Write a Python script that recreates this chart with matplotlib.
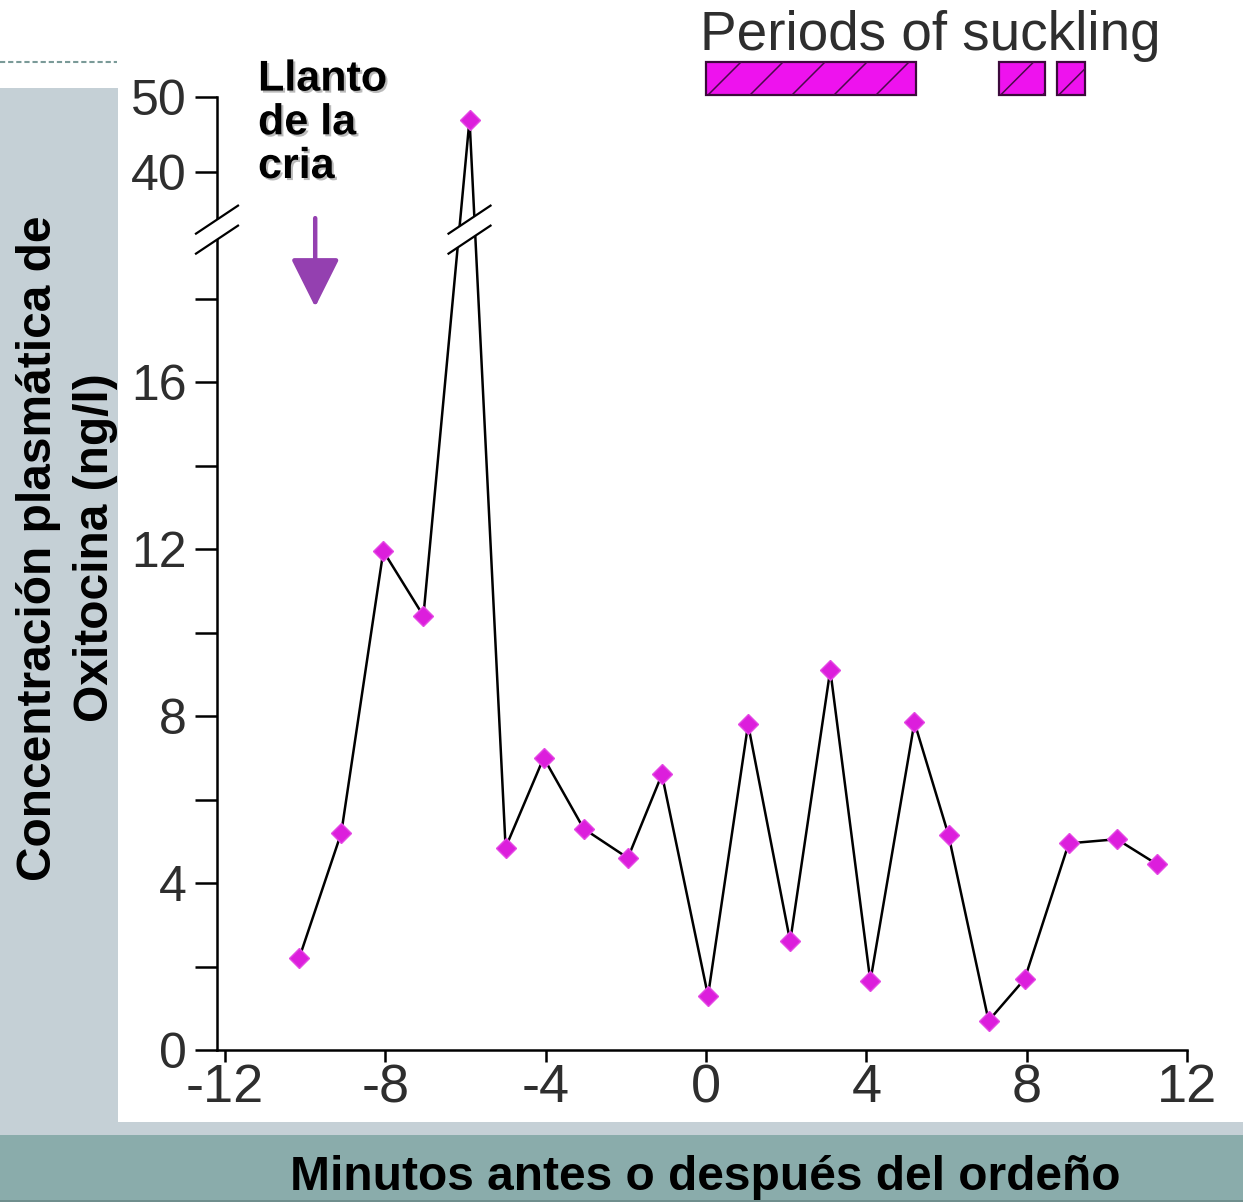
import numpy as np
import matplotlib
matplotlib.use("Agg")
import matplotlib.pyplot as plt
import matplotlib.patheffects as pe
import matplotlib.transforms as mtransforms
from matplotlib.patches import Rectangle, Polygon
from matplotlib.lines import Line2D

# ---------------- data ----------------
minutes = [-10.15, -9.1, -8.05, -7.05, -5.9, -5.0, -4.05, -3.05, -1.95, -1.1,
           0.05, 1.05, 2.1, 3.1, 4.1, 5.2, 6.05, 7.05, 7.95, 9.05, 10.25, 11.25]
oxytocin = [2.2, 5.2, 11.95, 10.4, 47.0, 4.85, 7.0, 5.3, 4.6, 6.6,
            1.3, 7.8, 2.6, 9.1, 1.65, 7.85, 5.15, 0.7, 1.7, 4.95, 5.05, 4.45]
suckling_periods = [(0.0, 5.25), (7.3, 8.45), (8.75, 9.45)]
cry_time = -9.75
cry_arrow_span = (32.0, 17.8)     # arrow from / to (ng/l axis units)
axis_break_at = 30.0
x_ticks = [-12, -8, -4, 0, 4, 8, 12]
x_tick_labels = ["-12", "-8", "-4", "0", "4", "8", "12"]
y_major = [0, 4, 8, 12, 16, 40, 50]
y_major_labels = ["0", "4", "8", "12", "16", "40", "50"]
y_minor = [2, 6, 10, 14, 18]
x_limits = (-12.2, 12.0)
y_limits = (0, 50)

# ---------------- broken-axis scale ----------------
LIN_TOP, GAP_HIGH = 18.0, 40.0
D40 = 21.03
UP_SLOPE = 0.18
GAP_SLOPE = (D40 - LIN_TOP) / (GAP_HIGH - LIN_TOP)


def fwd(y):
    y = np.asarray(y, dtype=float)
    return np.where(y <= LIN_TOP, y,
                    np.where(y <= GAP_HIGH, LIN_TOP + (y - LIN_TOP) * GAP_SLOPE,
                             D40 + (y - GAP_HIGH) * UP_SLOPE))


def inv(d):
    d = np.asarray(d, dtype=float)
    return np.where(d <= LIN_TOP, d,
                    np.where(d <= D40, LIN_TOP + (d - LIN_TOP) / GAP_SLOPE,
                             GAP_HIGH + (d - D40) / UP_SLOPE))


W, H = 1243, 1202
fig = plt.figure(figsize=(W / 100, H / 100), dpi=100)
fig.patch.set_facecolor("white")


def fx(px):
    return px / W


def fy(py):
    return 1 - py / H


def band(x0, y0, x1, y1, color):
    fig.patches.append(Rectangle((fx(x0), fy(y1)), fx(x1) - fx(x0), fy(y0) - fy(y1),
                                 transform=fig.transFigure, facecolor=color,
                                 edgecolor="none", zorder=0))


# slide background bands
band(0, 88, 118, 1135, "#c5d0d6")
band(0, 1122, W, 1135, "#c5d0d6")
band(0, 1135, W, H, "#8aacab")
band(0, H - 2, W, H, "#6f8e8d")
fig.lines.append(Line2D([fx(0), fx(117)], [fy(62), fy(62)], transform=fig.transFigure,
                        color="#7a9a98", lw=1.5, dashes=(2.5, 1.4)))

ax = fig.add_axes([fx(217), fy(1050), fx(1187) - fx(217), fy(97) - fy(1050)])
ax.set_facecolor("none")
ax.set_yscale("function", functions=(fwd, inv))
ax.set_xlim(*x_limits)
ax.set_ylim(*y_limits)

FONT = ["Liberation Sans", "DejaVu Sans"]

# data line and markers
ax.plot(minutes, oxytocin, color="black", lw=1.8, zorder=3, clip_on=False)
ax.plot(minutes, oxytocin, linestyle="none", marker="D", markersize=10,
        markerfacecolor="#dc1edc", markeredgecolor="#e448e4", markeredgewidth=1.0,
        zorder=4, clip_on=False)

# axes styling
for s in ["top", "right"]:
    ax.spines[s].set_visible(False)
for s in ["left", "bottom"]:
    ax.spines[s].set_linewidth(1.8)
ax.set_xticks(x_ticks)
ax.set_xticklabels(x_tick_labels)
ax.set_yticks(y_major)
ax.set_yticklabels(y_major_labels)
ax.set_yticks(y_minor, minor=True)
ax.tick_params(axis="y", which="both", direction="out", length=15.8, width=1.8,
               pad=6, labelsize=36, labelcolor="#2e2e2e")
ax.tick_params(axis="x", which="both", direction="out", length=8.6, width=1.8,
               pad=1, labelsize=39, labelcolor="#2e2e2e")
for lab in ax.get_xticklabels() + ax.get_yticklabels():
    lab.set_family(FONT)

# axis break marks (left axis and peak)
s1 = [(-21, -4), (21, 24)]
s2 = [(-21, -24), (21, 4)]
fill = [(-21, -24), (21, 4), (21, 24), (-21, -4)]
peak_x = minutes[int(np.argmax(oxytocin))]
for anchor in (mtransforms.ScaledTranslation(0.0, axis_break_at, ax.get_yaxis_transform()),
               mtransforms.ScaledTranslation(peak_x, axis_break_at, ax.transData)):
    tr = mtransforms.Affine2D().scale(fig.dpi / 100.0) + anchor
    ax.add_patch(Polygon(fill, closed=True, transform=tr, facecolor="white",
                         edgecolor="none", zorder=6, clip_on=False))
    for seg in (s1, s2):
        xs, ys = zip(*seg)
        ax.add_line(Line2D(xs, ys, transform=tr, color="black", lw=1.6,
                           zorder=7, clip_on=False))

# pup crying arrow and label
ax.annotate("", xy=(cry_time, cry_arrow_span[1]), xytext=(cry_time, cry_arrow_span[0]),
            arrowprops=dict(arrowstyle="-|>,head_length=0.6,head_width=0.3",
                            lw=3.2, color="#9440b0", mutation_scale=50,
                            shrinkA=0, shrinkB=0), zorder=5)
fig.text(fx(258), fy(178), "Llanto\nde la\ncria", ha="left", va="baseline",
         fontsize=31, fontweight="bold", family=FONT, linespacing=1.12,
         color="black", zorder=10,
         path_effects=[pe.withSimplePatchShadow(offset=(1.5, -1.5),
                                                shadow_rgbFace="#777777", alpha=0.5)])

# suckling periods legend bars
fig.text(fx(700), fy(50), "Periods of suckling", ha="left", va="baseline",
         fontsize=39.5, family=FONT, color="#2e2e2e")
bar_tr = mtransforms.blended_transform_factory(ax.transData, fig.transFigure)
p0 = ax.transData.transform([(0, 10), (1, 10)])
px_per_min = p0[1][0] - p0[0][0]
bar_top, bar_bot = fy(62), fy(95)
bar_h_px = 33
for (a, b) in suckling_periods:
    rect = Rectangle((a, bar_bot), b - a, bar_top - bar_bot, transform=bar_tr,
                     facecolor="#ee12ee", edgecolor="#3c0a3c", lw=1.6, zorder=8,
                     clip_on=False)
    fig.patches.append(rect)
    step = 42.0 / px_per_min
    dx = bar_h_px / px_per_min
    k = a + 2.0 / px_per_min
    while k < b:
        ln = Line2D([k, k + dx], [bar_bot, bar_top], transform=bar_tr,
                    color="#4a0a4a", lw=1.1, zorder=9)
        ln.set_clip_path(rect)
        fig.lines.append(ln)
        k += step

# axis titles on slide bands
fig.text(fx(67), fy(548), "Concentración plasmática de\nOxitocina (ng/l)",
         rotation=90, ha="center", va="center", multialignment="center",
         fontsize=34.5, fontweight="bold", family=FONT, linespacing=1.32,
         color="black")
fig.text(fx(705), fy(1178), "Minutos antes o después del ordeño",
         ha="center", va="center", fontsize=34.5, fontweight="bold",
         family=FONT, color="black")

fig.savefig("out.png", dpi=100)
